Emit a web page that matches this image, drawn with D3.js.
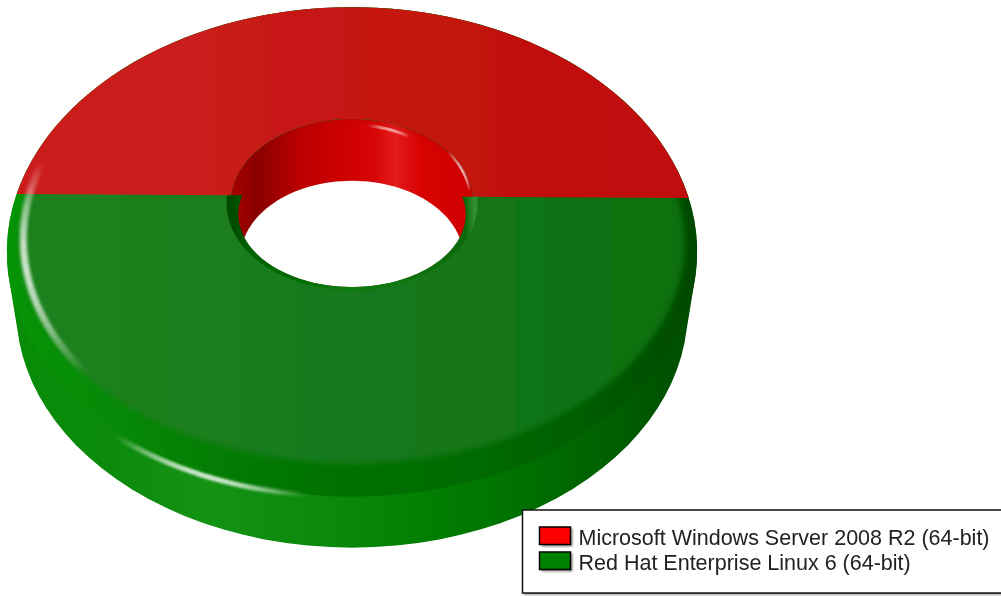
<!DOCTYPE html>
<html>
<head>
<meta charset="utf-8">
<script src="https://d3js.org/d3.v7.min.js"></script>
<style>
  body { margin: 0; background: #fff; overflow: hidden; }
  text { font-family: "Liberation Sans", Arial, sans-serif; }
</style>
</head>
<body>
<div id="chart"></div>
<script>
// the data
var categories = ["Microsoft Windows Server 2008 R2 (64-bit)", "Red Hat Enterprise Linux 6 (64-bit)"];
var values = [50, 50];
var sliceColors = ["#ff0000", "#008000"];

var width = 1001, height = 596;

// tilted ring: a unit disk seen in perspective
var cx = 352, cy = 196, a = 336, b = 232, k = 0.2286;
var holeR = 0.36, holeLowR = 0.34;
var lower = {s: 0.973, dy: 59};     // the underside plane
var holeLower = {s: 0.973, dy: 56}; // bottom opening of the hole
var upper = {s: 1, dy: 0};

function project(u, v, plane) {
  var w = 1 / (1 - k * v);
  return [cx + a * u * w * plane.s, cy + plane.dy + b * v * w * plane.s];
}

// d3.pie angles: 0 is the far side, clockwise
function onRing(angle, r, plane) {
  return project(r * Math.sin(angle), -r * Math.cos(angle), plane);
}

function sampleArc(a0, a1, r, plane) {
  var rf = typeof r === "function" ? r : function() { return r; };
  return d3.range(0, 121).map(function(i) {
    var t = a0 + (a1 - a0) * i / 120;
    return onRing(t, rf(t), plane);
  });
}

var line = d3.line();
var TAU = Math.PI * 2;

function circlePath(r, plane) { return line(sampleArc(0, TAU, r, plane)) + "Z"; }
function ringSlice(a0, a1, r0, r1, plane) {
  return line(sampleArc(a0, a1, r1, plane).concat(sampleArc(a1, a0, r0, plane))) + "Z";
}

var pie = d3.pie().sort(null).startAngle(-Math.PI / 2 + 0.009).endAngle(Math.PI * 1.5 + 0.009);
var slices = pie(values);
var color = d3.scaleOrdinal().domain(categories).range(sliceColors);

var svg = d3.select("#chart").append("svg")
  .attr("width", width).attr("height", height).style("display", "block");
var defs = svg.append("defs");

function gradient(id, x0, x1, stops) {
  var g = defs.append("linearGradient").attr("id", id)
    .attr("gradientUnits", "userSpaceOnUse")
    .attr("x1", x0).attr("x2", x1).attr("y1", 0).attr("y2", 0);
  stops.forEach(function(s) {
    g.append("stop").attr("offset", (s[0] - x0) / (x1 - x0)).attr("stop-color", s[1]);
  });
}
function blur(id, dev) {
  defs.append("filter").attr("id", id)
    .attr("filterUnits", "userSpaceOnUse")
    .attr("x", -20).attr("y", -20).attr("width", width + 40).attr("height", height + 40)
    .append("feGaussianBlur").attr("stdDeviation", dev);
}
blur("b1", 1); blur("b15", 1.6); blur("b2", 2); blur("b3", 3.2); blur("soft", 0.45);

gradient("wall", 7, 697, [[7, "#078c07"], [110, "#0b8a0b"], [210, "#149214"], [330, "#0c880c"],
  [420, "#018001"], [520, "#007000"], [610, "#005f00"], [697, "#004c00"]]);
gradient("bevel", 7, 697, [[7, "#059505"], [100, "#078a07"], [300, "#007400"], [480, "#006a00"],
  [600, "#005a00"], [697, "#004800"]]);
gradient("faceGreen", 7, 697, [[7, "#1f821f"], [200, "#1b7e1b"], [400, "#14771a"], [697, "#0e700e"]]);
gradient("faceRed", 7, 697, [[7, "#cc1f1c"], [200, "#c91c1a"], [400, "#c4140f"], [697, "#c00c09"]]);
gradient("holeWall", 232, 474, [[232, "#a80000"], [257, "#880000"], [300, "#bc0000"], [350, "#d00000"],
  [378, "#d80808"], [395, "#e31c1c"], [420, "#d80202"], [474, "#d00000"]]);
gradient("lip", 232, 474, [[232, "#004c00"], [250, "#006000"], [350, "#0a7c0a"], [450, "#0a6c0a"], [465, "#0a660a"], [474, "#2f8f2f"]]);

defs.append("clipPath").attr("id", "disc").append("path").attr("d", circlePath(1, upper));
defs.append("clipPath").attr("id", "hole").append("path").attr("d", circlePath(holeR, upper));

// side wall, then the rounded edge of the top
svg.append("path")
  .attr("d", line(d3.polygonHull(sampleArc(0, TAU, 1, upper).concat(sampleArc(0, TAU, 1, lower)))) + "Z")
  .attr("fill", "url(#wall)");

svg.append("path").attr("d", circlePath(1, upper)).attr("fill", "url(#bevel)");

// flat part of the top, its blurred edge makes the rounded rim; narrower on the near side
var faceG = svg.append("g").attr("clip-path", "url(#disc)");
faceG.append("path")
  .attr("d", line(sampleArc(0, TAU, function(t) {
    var c = Math.min(0, Math.cos(t));
    return 0.968 - 0.055 * c * c;
  }, upper)) + "Z")
  .attr("fill", "url(#faceGreen)").attr("filter", "url(#b3)");

// the slices, red sits on the far half
svg.append("path").datum(slices[0])
  .attr("d", function(d) { return ringSlice(d.startAngle, d.endAngle, holeR, 1, upper); })
  .attr("fill", "url(#faceRed)").attr("filter", "url(#soft)");

// inside of the hole
var holeG = svg.append("g").attr("clip-path", "url(#hole)");
holeG.append("path").attr("d", circlePath(holeR, upper)).attr("fill", "url(#holeWall)");
holeG.append("path").attr("d", circlePath(holeR, upper))
  .attr("fill", "none").attr("stroke", "#a00000").attr("stroke-opacity", 0.3)
  .attr("stroke-width", 4).attr("filter", "url(#b2)");
holeG.append("path").attr("d", circlePath(holeLowR, holeLower)).attr("fill", "#fff").attr("filter", "url(#soft)");

// green lip round the near half of the hole
var g0 = slices[1].startAngle, g1 = slices[1].endAngle;
svg.append("path")
  .attr("d", ringSlice(g0, g1, function(t) {
    var f = 1 + Math.cos(t);           // 0 at the front, 1 at the split
    return holeR - 0.033 * Math.pow(Math.min(f, 1), 2.2);
  }, holeR + 0.012, upper))
  .attr("fill", "url(#lip)").attr("filter", "url(#soft)");

// highlights along the rims: angle in degrees, radius at both ends, peak opacity
var highlights = [
  {from: 226, to: 279, r0: 0.937, r1: 0.966, peak: 0.78, w: 7, f: "b15"},
  {from: 186, to: 214, r0: 1.0, r1: 1.012, peak: 0.8, w: 5, f: "b1"},
  {from: 9, to: 34, r0: 0.33, r1: 0.327, peak: 0.6, w: 3, f: "soft"},
  {from: 56, to: 87, r0: 0.358, r1: 0.352, peak: 0.7, w: 2.5, f: "soft"}
];
highlights.forEach(function(h) {
  var grp = svg.append("g").attr("filter", "url(#" + h.f + ")");
  var n = 40;
  d3.range(n).forEach(function(i) {
    var t0 = i / n, t1 = (i + 1) / n;
    var rad = function(t) { return h.r0 + (h.r1 - h.r0) * t; };
    var ang = function(t) { return (h.from + (h.to - h.from) * t) * Math.PI / 180; };
    grp.append("path")
      .attr("d", line([onRing(ang(t0), rad(t0), upper), onRing(ang(t1), rad(t1), upper)]))
      .attr("stroke", "#fff").attr("fill", "none")
      .attr("stroke-width", h.w)
      .attr("stroke-opacity", h.peak * Math.sin(Math.PI * (t0 + t1) / 2));
  });
});

// legend
var legend = svg.append("g");
legend.append("rect").attr("x", 524).attr("y", 511).attr("width", 490).attr("height", 84)
  .attr("fill", "#999").attr("filter", "url(#b1)");
legend.append("rect").attr("x", 522.5).attr("y", 510).attr("width", 490).attr("height", 83)
  .attr("fill", "#fff").attr("stroke", "#111").attr("stroke-width", 1.5);

var legendY = d3.scalePoint().domain(categories).range([536, 561]);
var rows = legend.selectAll("g.row").data(categories).enter().append("g").attr("class", "row")
  .attr("transform", function(d) { return "translate(0," + legendY(d) + ")"; });
rows.append("rect").attr("x", 540.5).attr("y", -8.5).attr("width", 31).attr("height", 18)
  .attr("fill", "#888").attr("transform", "translate(1,1)").attr("filter", "url(#b1)");
rows.append("rect").attr("x", 539.5).attr("y", -9).attr("width", 31).attr("height", 17.5)
  .attr("fill", function(d) { return color(d); }).attr("stroke", "#000").attr("stroke-width", 1.5);
rows.append("text").attr("x", 578.5).attr("y", 9).attr("font-size", 21.5).attr("fill", "#222")
  .attr("filter", "url(#soft)")
  .text(function(d) { return d; });
</script>
</body>
</html>
